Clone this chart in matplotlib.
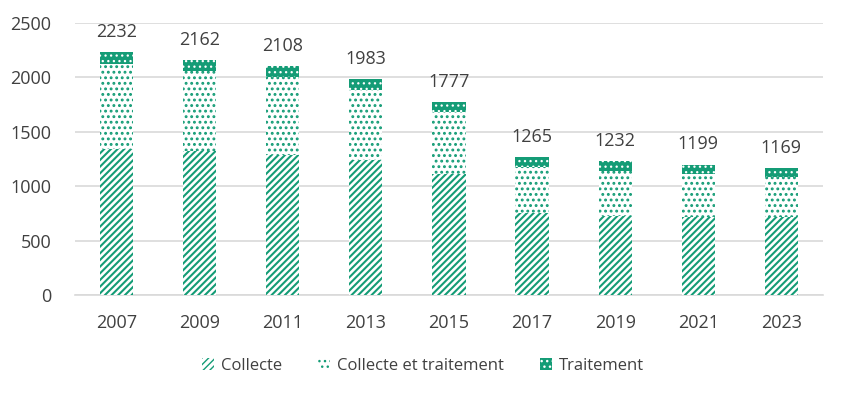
import numpy as np
import matplotlib
matplotlib.use('Agg')
import matplotlib.pyplot as plt
from matplotlib.patches import Patch

years = ['2007', '2009', '2011', '2013', '2015', '2017', '2019', '2021', '2023']
collecte = np.array([1345, 1320, 1290, 1240, 1115, 750, 728, 718, 718])
collecte_traitement = np.array([775, 742, 715, 645, 570, 430, 415, 395, 368])
traitement = np.array([112, 100, 103, 98, 92, 85, 89, 86, 83])

green = '#149C76'
plt.rcParams['font.family'] = ['Open Sans', 'DejaVu Sans']

# hatch styles for each series: (face, hatch colour, hatch, hatch linewidth)
styles = {
    'Collecte': ('white', green, '/////', 1.5),
    'Collecte et traitement': ('white', green, '...', 1.3),
    'Traitement': (green, 'white', '...', 0.9),
}

fig = plt.figure(figsize=(8.46, 3.97), dpi=100)
ax = fig.add_axes([0.0887, 0.257, 0.884, 0.685])
x = np.arange(len(years))
width = 0.4

bottom = np.zeros(len(years))
series = {'Collecte': collecte, 'Collecte et traitement': collecte_traitement,
          'Traitement': traitement}
handles = []
for name, vals in series.items():
    face, hc, hatch, hlw = styles[name]
    with plt.rc_context({'hatch.linewidth': hlw}):
        bars = ax.bar(x, vals, width, bottom=bottom, color=face, edgecolor=hc,
                      hatch=hatch, linewidth=0, zorder=3, label=name)
        handles.append(Patch(facecolor=face, edgecolor=hc, hatch=hatch,
                             linewidth=0, label=name))
    bottom = bottom + vals

totals = collecte + collecte_traitement + traitement
ax.bar_label(bars, labels=[str(t) for t in totals], padding=8,
             fontsize=13, color='#404040')

ax.set_xlim(-0.5, len(years) - 0.5)
ax.set_ylim(0, 2500)
ax.set_yticks(np.arange(0, 2501, 500))
ax.set_xticks(x, years)
ax.yaxis.grid(True, color='#D9D9D9', linewidth=1.2, zorder=0)
ax.set_axisbelow(True)
for s in ['top', 'right', 'left']:
    ax.spines[s].set_visible(False)
ax.spines['bottom'].set_color('#D9D9D9')
ax.spines['bottom'].set_linewidth(1.2)
ax.tick_params(length=0, labelsize=13, colors='#404040')
ax.tick_params(axis='x', pad=14)
ax.tick_params(axis='y', pad=17)

fig.legend(handles=handles, loc='center', bbox_to_anchor=(0.5, 0.078), ncol=3,
           frameon=False, fontsize=12, handlelength=0.7, handleheight=0.7,
           columnspacing=2.2, handletextpad=0.4, labelcolor='#404040')

fig.savefig('out.png', dpi=100)
